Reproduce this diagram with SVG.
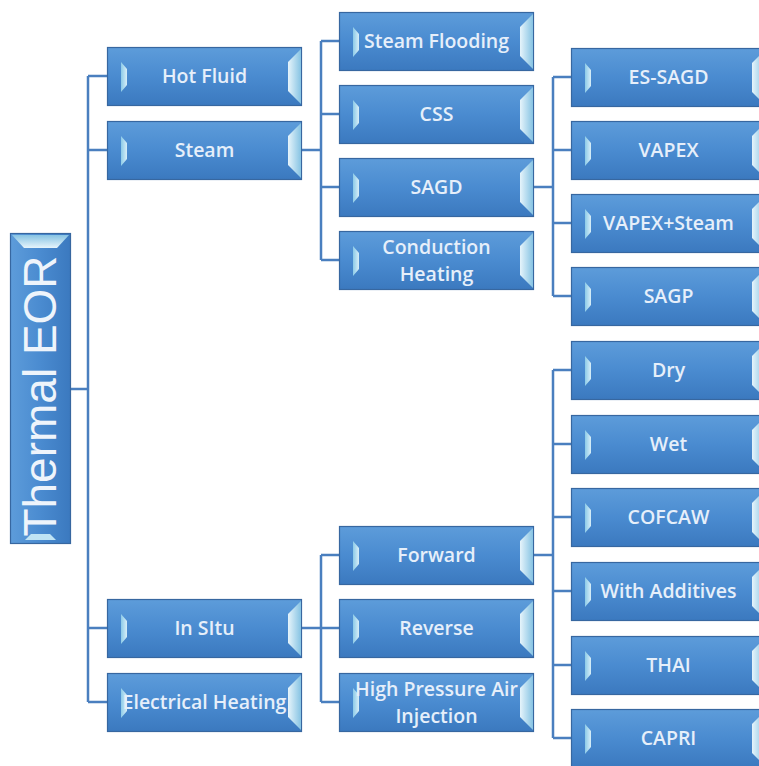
<svg xmlns="http://www.w3.org/2000/svg" xmlns:xlink="http://www.w3.org/1999/xlink" width="759" height="766" viewBox="0 0 759 766">
<style>
.lbl{font-family:"Open Sans","Liberation Sans",Arial,sans-serif;font-weight:600;font-size:19.5px;fill:#e6effa;text-anchor:middle}
.conn{fill:none;stroke:#4a7fbf;stroke-width:2.5}
</style>
<defs>
<linearGradient id="gFill" x1="0" y1="0" x2="0" y2="1">
<stop offset="0" stop-color="#5d9cda"/>
<stop offset="0.5" stop-color="#4a8bd0"/>
<stop offset="1" stop-color="#3b79bf"/>
</linearGradient>
<linearGradient id="gFillH" x1="0" y1="0" x2="1" y2="0">
<stop offset="0" stop-color="#5d9cda"/>
<stop offset="0.5" stop-color="#4a8bd0"/>
<stop offset="1" stop-color="#3b79bf"/>
</linearGradient>
<linearGradient id="gBevR" x1="0" y1="0" x2="1" y2="0">
<stop offset="0" stop-color="#e6f4fb"/>
<stop offset="1" stop-color="#86c3e3"/>
</linearGradient>
<linearGradient id="gBevL" x1="0" y1="0" x2="1" y2="0">
<stop offset="0" stop-color="#8ccbe8"/>
<stop offset="1" stop-color="#d8eef8"/>
</linearGradient>
<linearGradient id="gBevT" x1="0" y1="1" x2="0" y2="0">
<stop offset="0" stop-color="#e6f4fb"/>
<stop offset="1" stop-color="#86c3e3"/>
</linearGradient>
<g id="box">
<rect x="0.5" y="0.5" width="194" height="58" fill="url(#gFill)" stroke="#3767a0" stroke-width="1.2"/>
<polygon points="14,15 20,22 20,38 14,45" fill="url(#gBevL)"/>
<polygon points="194,2 181,15 181,44 194,57" fill="url(#gBevR)"/>
</g>
</defs>

<g id="connectors">
<path class="conn" d="M71,389 H88 M88,76 V702 M88,76 H107 M88,150 H107 M88,628 H107 M88,702 H107"/>
<path class="conn" d="M302,150 H321 M321,41 V260 M321,41 H339 M321,114 H339 M321,187 H339 M321,260 H339"/>
<path class="conn" d="M533,187 H553 M553,77 V296 M553,77 H571 M553,150 H571 M553,223 H571 M553,296 H571"/>
<path class="conn" d="M302,628 H321 M321,555 V702 M321,555 H339 M321,628 H339 M321,702 H339"/>
<path class="conn" d="M533,555 H553 M553,370 V738 M553,370 H571 M553,444 H571 M553,517 H571 M553,591 H571 M553,665 H571 M553,738 H571"/>
</g>

<g id="n-thermal-eor">
<rect x="10.5" y="233.5" width="60" height="310" fill="url(#gFillH)" stroke="#3767a0" stroke-width="1.2"/>
<polygon points="12,235 69,235 57,248 24,248" fill="url(#gBevT)"/>
<polygon points="25,540 56,540 50,534 31,534" fill="#bfe3f4"/>
<text transform="translate(56,396) rotate(-90)" style="font-family:'Liberation Sans',Arial,sans-serif;font-size:46px;fill:#eef4fb;text-anchor:middle">Thermal EOR</text>
</g>

<g id="n-hot-fluid" transform="translate(107,47)"><use href="#box"/><text class="lbl" x="97.5" y="36">Hot Fluid</text></g>
<g id="n-steam" transform="translate(107,121)"><use href="#box"/><text class="lbl" x="97.5" y="36">Steam</text></g>
<g id="n-in-situ" transform="translate(107,599)"><use href="#box"/><text class="lbl" x="97.5" y="36">In SItu</text></g>
<g id="n-electrical-heating" transform="translate(107,673)"><use href="#box"/><text class="lbl" x="97.5" y="36">Electrical Heating</text></g>

<g id="n-steam-flooding" transform="translate(339,12)"><use href="#box"/><text class="lbl" x="97.5" y="36">Steam Flooding</text></g>
<g id="n-css" transform="translate(339,85)"><use href="#box"/><text class="lbl" x="97.5" y="36">CSS</text></g>
<g id="n-sagd" transform="translate(339,158)"><use href="#box"/><text class="lbl" x="97.5" y="36">SAGD</text></g>
<g id="n-conduction-heating" transform="translate(339,231)"><use href="#box"/><text class="lbl" x="97.5" y="23">Conduction</text><text class="lbl" x="97.5" y="50">Heating</text></g>
<g id="n-forward" transform="translate(339,526)"><use href="#box"/><text class="lbl" x="97.5" y="36">Forward</text></g>
<g id="n-reverse" transform="translate(339,599)"><use href="#box"/><text class="lbl" x="97.5" y="36">Reverse</text></g>
<g id="n-hpai" transform="translate(339,673)"><use href="#box"/><text class="lbl" x="97.5" y="23">High Pressure Air</text><text class="lbl" x="97.5" y="50">Injection</text></g>

<g id="n-es-sagd" transform="translate(571,48)"><use href="#box"/><text class="lbl" x="97.5" y="36">ES-SAGD</text></g>
<g id="n-vapex" transform="translate(571,121)"><use href="#box"/><text class="lbl" x="97.5" y="36">VAPEX</text></g>
<g id="n-vapex-steam" transform="translate(571,194)"><use href="#box"/><text class="lbl" x="97.5" y="36">VAPEX+Steam</text></g>
<g id="n-sagp" transform="translate(571,267)"><use href="#box"/><text class="lbl" x="97.5" y="36">SAGP</text></g>
<g id="n-dry" transform="translate(571,341)"><use href="#box"/><text class="lbl" x="97.5" y="36">Dry</text></g>
<g id="n-wet" transform="translate(571,415)"><use href="#box"/><text class="lbl" x="97.5" y="36">Wet</text></g>
<g id="n-cofcaw" transform="translate(571,488)"><use href="#box"/><text class="lbl" x="97.5" y="36">COFCAW</text></g>
<g id="n-with-additives" transform="translate(571,562)"><use href="#box"/><text class="lbl" x="97.5" y="36">With Additives</text></g>
<g id="n-thai" transform="translate(571,636)"><use href="#box"/><text class="lbl" x="97.5" y="36">THAI</text></g>
<g id="n-capri" transform="translate(571,709)"><use href="#box"/><text class="lbl" x="97.5" y="36">CAPRI</text></g>
</svg>
